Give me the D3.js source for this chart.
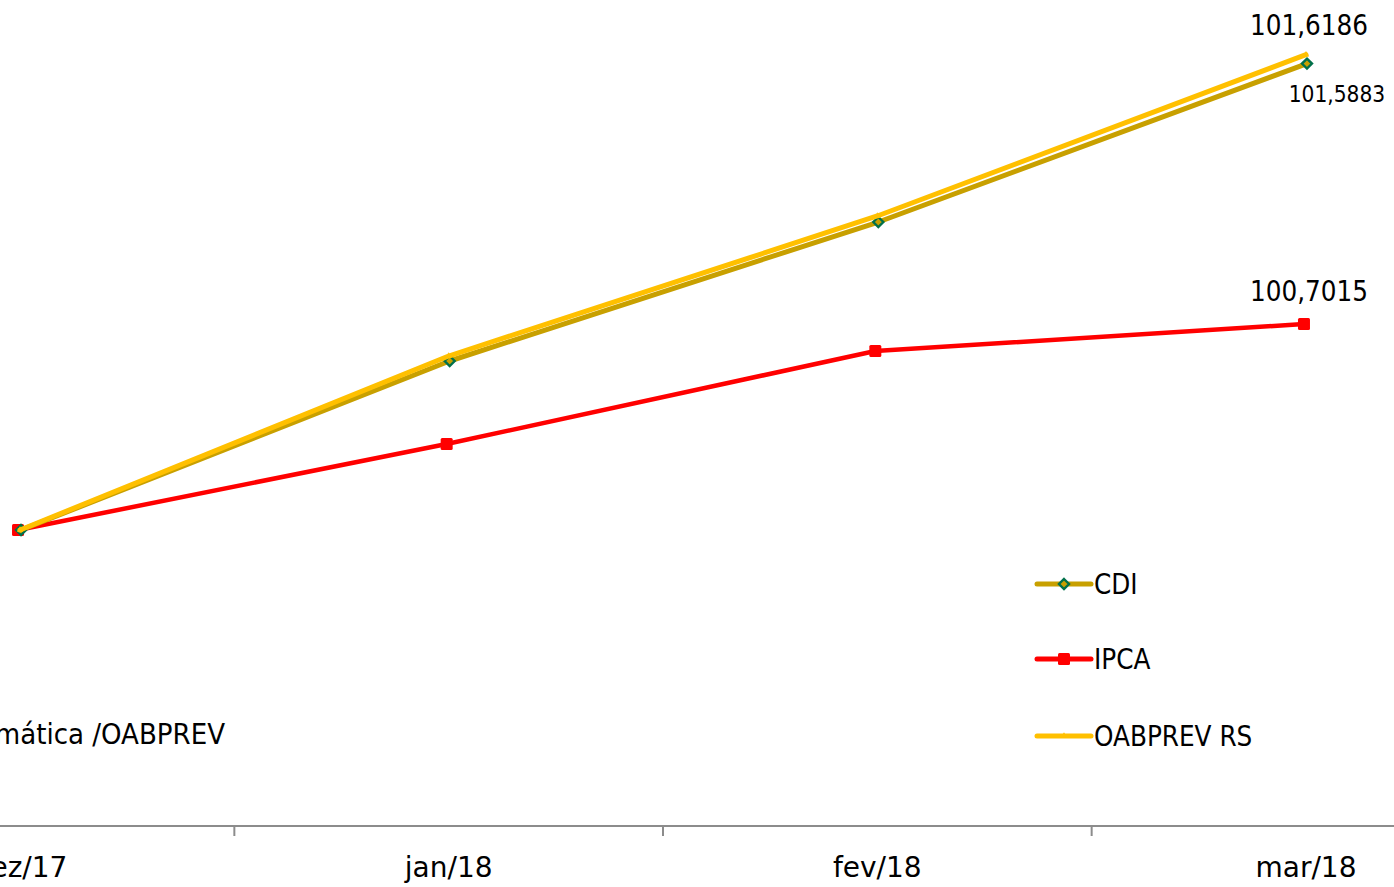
<!DOCTYPE html>
<html>
<head>
<meta charset="utf-8">
<script src="https://cdn.jsdelivr.net/npm/d3@7/dist/d3.min.js"></script>
<style>
  html, body { margin: 0; padding: 0; background: #fff; }
  svg { display: block; }
  text { font-family: 'DejaVu Sans Condensed', 'DejaVu Sans', sans-serif; fill: #000; }
  text.axislab { font-family: 'DejaVu Sans', sans-serif; }
</style>
</head>
<body>
<svg id="chart" width="1394" height="887"></svg>
<script>
const categories = ["dez/17", "jan/18", "fev/18", "mar/18"];
const cdiValues = [100, 100.5755, 101.0488, 101.5883];
const ipcaValues = [100, 100.2929, 100.6096, 100.7015];
const oabprevValues = [100, 100.5925, 101.0693, 101.6186];
const seriesNames = ["CDI", "IPCA", "OABPREV RS"];
const sourceText = "Fonte: Economática /OABPREV";

const svg = d3.select("#chart");
const W = 1394, H = 887;

const x = d3.scaleBand().domain(categories).range([-194.3, 1520.3]).paddingInner(0).paddingOuter(0);
const y = d3.scaleLinear().domain([100, 100.7015]).range([530, 324]);
const cx = c => x(c) + x.bandwidth() / 2;

const fmt = v => v.toFixed(4).replace(".", ",");

const series = [
  { name: seriesNames[1], values: ipcaValues, color: "#FF0000", width: 4.5, marker: "square", dx: -2 },
  { name: seriesNames[0], values: cdiValues, color: "#C8A000", width: 5, marker: "diamond", dx: 1 },
  { name: seriesNames[2], values: oabprevValues, color: "#FFC000", width: 5, marker: "triangle", dx: 0 }
];

// axis
const axisY = 826;
const gAxis = svg.append("g").attr("transform", `translate(0,${axisY})`);
gAxis.append("line").attr("x1", 0).attr("x2", W).attr("y1", 0).attr("y2", 0)
  .attr("stroke", "#8c8c8c").attr("stroke-width", 2);
const boundaries = categories.slice(1).map(c => x(c));
gAxis.selectAll("line.tick").data(boundaries).join("line")
  .attr("class", "tick")
  .attr("x1", d => d).attr("x2", d => d).attr("y1", 0).attr("y2", 10)
  .attr("stroke", "#8c8c8c").attr("stroke-width", 2);
gAxis.selectAll("text.axislab").data(categories).join("text")
  .attr("class", "axislab")
  .attr("x", d => cx(d)).attr("y", 51)
  .attr("text-anchor", "middle").attr("font-size", 28)
  .text(d => d);

// lines
function drawMarker(g, kind, px, py) {
  if (kind === "square") {
    g.append("rect").attr("x", px - 6).attr("y", py - 6).attr("width", 12).attr("height", 12)
      .attr("rx", 1.5).attr("fill", "#FF0000");
  } else if (kind === "diamond") {
    g.append("path").attr("d", d3.symbol(d3.symbolDiamond2, 64)())
      .attr("transform", `translate(${px},${py})`)
      .attr("fill", "#C8A000").attr("stroke", "#00704A").attr("stroke-width", 2.4);
  } else {
    g.append("path").attr("d", d3.symbol(d3.symbolTriangle, 18)())
      .attr("transform", `translate(${px},${py})`)
      .attr("fill", "#FFC000");
  }
}

series.forEach(s => {
  const g = svg.append("g");
  const line = d3.line().x((d, i) => cx(categories[i]) + s.dx).y(d => y(d));
  g.append("path").datum(s.values).attr("d", line)
    .attr("fill", "none").attr("stroke", s.color).attr("stroke-width", s.width)
    .attr("stroke-linejoin", "round").attr("stroke-linecap", "round");
  s.values.forEach((v, i) => drawMarker(g, s.marker, cx(categories[i]) + s.dx, y(v)));
});

// data labels
const last = categories[categories.length - 1];
svg.append("text").attr("x", cx(last) + 3).attr("y", 35).attr("text-anchor", "middle")
  .attr("font-size", 27.5).text(fmt(oabprevValues[3]));
svg.append("text").attr("x", cx(last) + 31).attr("y", 102).attr("text-anchor", "middle")
  .attr("font-size", 22.5).text(fmt(cdiValues[3]));
svg.append("text").attr("x", cx(last) + 3).attr("y", 301).attr("text-anchor", "middle")
  .attr("font-size", 27.5).text(fmt(ipcaValues[3]));

// legend
const legendItems = [
  { name: seriesNames[0], color: "#C8A000", marker: "diamond", ly: 584 },
  { name: seriesNames[1], color: "#FF0000", marker: "square", ly: 659 },
  { name: seriesNames[2], color: "#FFC000", marker: "triangle", ly: 736 }
];
legendItems.forEach(it => {
  const g = svg.append("g");
  g.append("line").attr("x1", 1037).attr("x2", 1091).attr("y1", it.ly).attr("y2", it.ly)
    .attr("stroke", it.color).attr("stroke-width", 5).attr("stroke-linecap", "round");
  drawMarker(g, it.marker, 1064, it.ly);
  g.append("text").attr("x", 1094).attr("y", it.ly + 10).attr("font-size", 27.5).text(it.name);
});

// source
svg.append("text").attr("x", 225).attr("y", 744).attr("text-anchor", "end")
  .attr("font-size", 29).text(sourceText);
</script>
</body>
</html>
